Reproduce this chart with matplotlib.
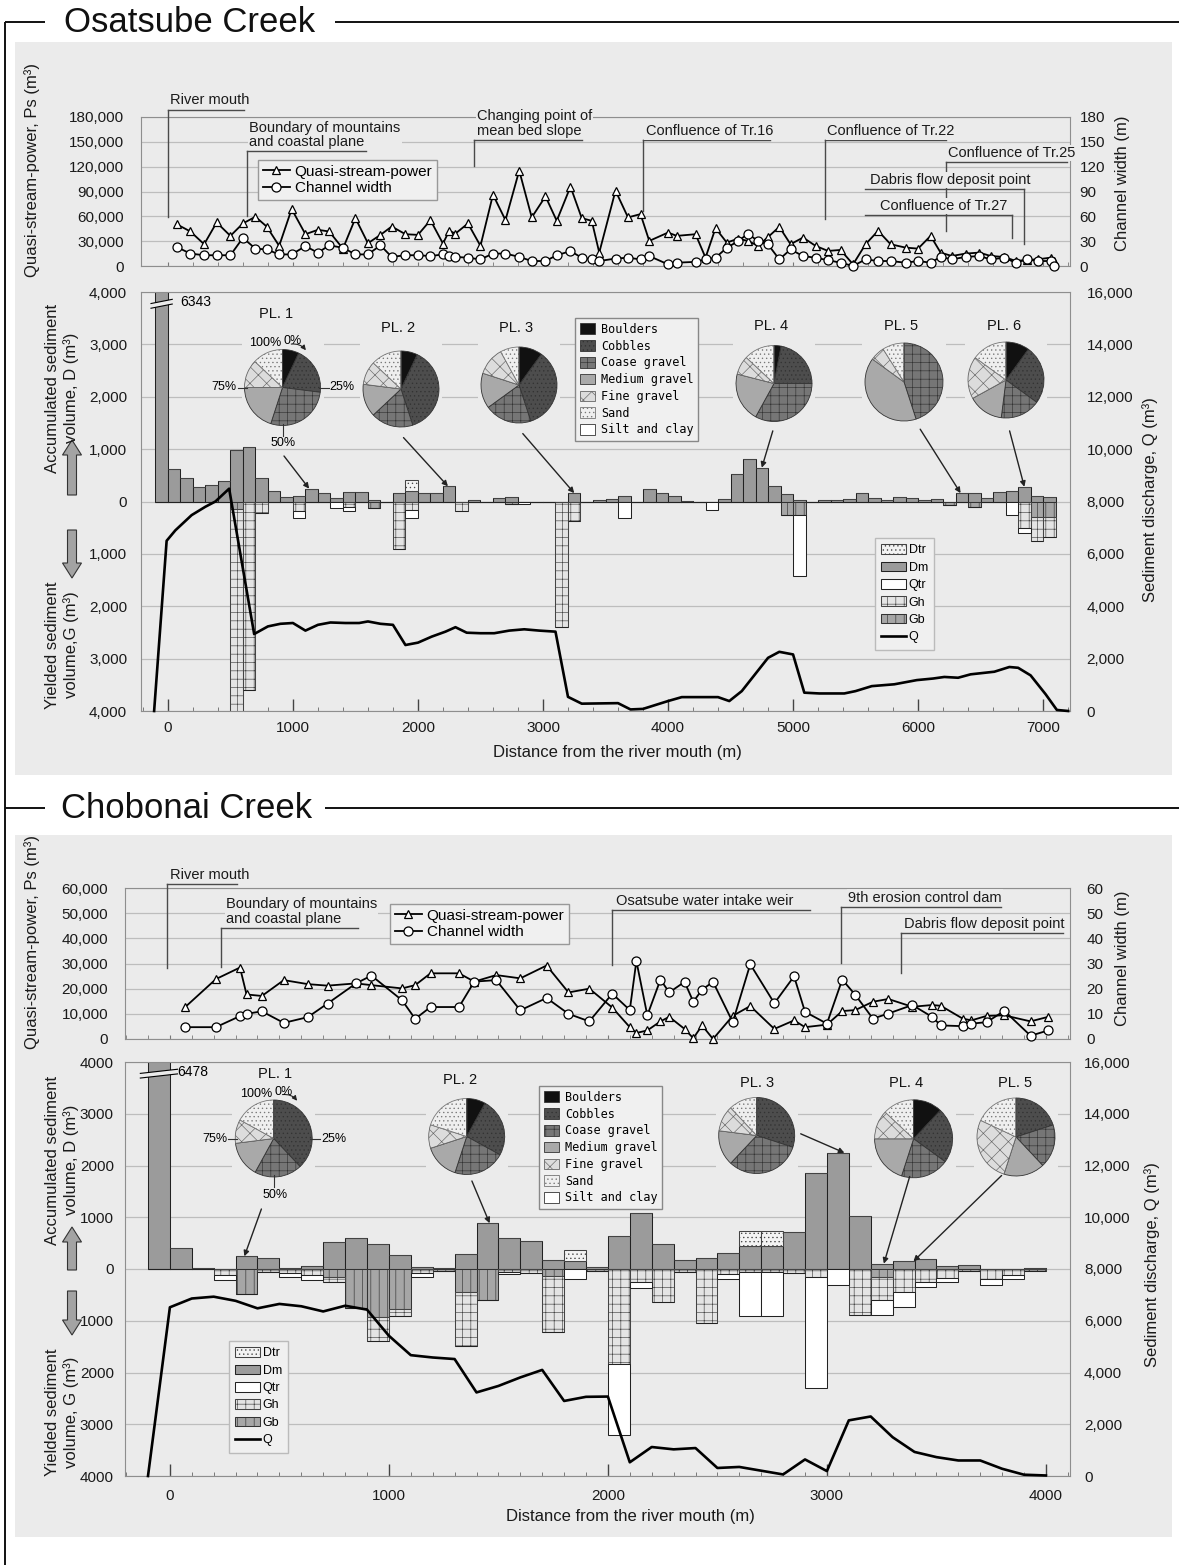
import numpy as np
import matplotlib
matplotlib.use("Agg")
import matplotlib.pyplot as plt
from matplotlib.patches import Rectangle, Patch, FancyArrow, ConnectionPatch, Polygon, FancyArrowPatch
from matplotlib.ticker import FuncFormatter

plt.rcParams["font.family"] = ["Liberation Sans", "DejaVu Sans"]
plt.rcParams["hatch.linewidth"] = 0.45
plt.rcParams["axes.unicode_minus"] = False

# ====================== DATA ======================
# ---------- Osatsube Creek : stream power / channel width ----------
osa_dist = [70, 180, 290, 390, 500, 600, 700, 790, 890, 990,
            1100, 1200, 1290, 1400, 1500, 1600, 1700, 1790, 1900, 2000,
            2100, 2200, 2250, 2300, 2400, 2500, 2600, 2700, 2810, 2910,
            3020, 3110, 3220, 3310, 3390, 3450, 3580, 3680, 3780, 3850,
            4000, 4070, 4220, 4300, 4380, 4470, 4560, 4640, 4720, 4800,
            4890, 4980, 5080, 5180, 5280, 5380, 5480, 5580, 5680, 5780,
            5900, 6000, 6100, 6180, 6270, 6380, 6490, 6580, 6690, 6780,
            6870, 6960, 7060, 7090]
osa_ps = [50500, 41700, 26300, 52600, 36400, 51400, 59500, 47700, 24300, 68800,
          38400, 43700, 41700, 21000, 57800, 27500, 37600, 47700, 38400, 37600,
          55400, 27100, 42500, 39200, 51400, 24300, 86200, 55400, 115300, 58700,
          84100, 54600, 95900, 57800, 54600, 16200, 91000, 58700, 62700, 30300,
          40400, 36400, 38400, 10100, 45700, 28300, 33000, 30300, 24300, 35000,
          47300, 26300, 34400, 24300, 18200, 19400, 2000, 26300, 42500, 26300,
          22200, 21000, 36400, 16200, 12100, 15000, 16200, 12100, 10900, 6100,
          7300, 8100, 10100, 6000]
osa_width = [23, 15, 13, 13, 13, 34, 21, 20, 14, 14,
             24, 16, 25, 22, 14, 14, 25, 11, 13, 13,
             12, 14, 12, 11, 10, 8, 15, 15, 11, 6,
             6, 13, 18, 10, 8, 6, 9, 10, 8, 12,
             2, 4, 5, 8, 10, 22, 30, 39, 30, 26,
             8, 20, 12, 10, 7, 4, 0, 8, 6, 6,
             4, 6, 4, 11, 8, 11, 12, 8, 10, 4,
             8, 6, 6, 0]

# ---------- Osatsube Creek : sediment budget per 100 m reach ----------
osa_bar_x = list(range(-50, 7100, 100))
osa_Dm = [6343, 613, 440, 270, 310, 390, 980, 1045, 450, 206,
          77, 97, 245, 160, 65, 180, 180, 30, 0, 160,
          205, 160, 160, 290, 0, 30, 0, 65, 80, 0,
          0, 0, 0, 160, 0, 20, 50, 97, 0, 240,
          170, 100, 10, 0, 0, 40, 516, 806, 645, 290,
          148, 30, 0, 20, 20, 40, 160, 60, 20, 80,
          60, 30, 40, 0, 160, 160, 60, 180, 200, 280,
          100, 80]
osa_Dtr = [0, 0, 0, 0, 0, 0, 0, 0, 0, 0,
           0, 0, 0, 0, 0, 0, 0, 0, 0, 0,
           215, 0, 0, 0, 0, 0, 0, 0, 0, 0,
           0, 0, 0, 0, 0, 0, 0, 0, 0, 0,
           0, 0, 0, 0, 0, 0, 0, 0, 0, 0,
           0, 0, 0, 0, 0, 0, 0, 0, 0, 0,
           0, 0, 0, 0, 0, 0, 0, 0, 0, 0,
           0, 0]
osa_Gb = [0, 0, 0, 0, 0, 0, 150, 0, 0, 0,
          0, 0, 0, 0, 0, 0, 0, 130, 0, 0,
          0, 0, 0, 0, 0, 0, 0, 0, 40, 0,
          0, 0, 0, 0, 0, 0, 0, 0, 0, 0,
          0, 0, 0, 0, 0, 0, 0, 0, 0, 0,
          250, 250, 0, 0, 0, 0, 0, 0, 0, 0,
          0, 0, 0, 60, 0, 100, 0, 0, 0, 0,
          300, 300]
osa_Gh = [0, 0, 0, 0, 0, 0, 3900, 3590, 220, 0,
          0, 190, 0, 0, 0, 100, 0, 0, 0, 900,
          170, 0, 0, 0, 190, 0, 0, 0, 0, 0,
          0, 0, 2400, 370, 0, 0, 0, 0, 0, 0,
          0, 0, 0, 0, 0, 0, 0, 0, 0, 0,
          0, 0, 0, 0, 0, 0, 0, 0, 0, 0,
          0, 0, 0, 0, 0, 0, 0, 0, 0, 500,
          460, 370]
osa_Qtr = [0, 0, 0, 0, 0, 0, 0, 0, 0, 0,
           0, 130, 0, 0, 130, 90, 0, 0, 0, 0,
           150, 0, 0, 0, 0, 0, 0, 0, 0, 40,
           0, 0, 0, 0, 0, 0, 0, 320, 0, 0,
           0, 0, 0, 0, 170, 0, 0, 0, 0, 0,
           0, 1180, 0, 0, 0, 0, 0, 0, 0, 0,
           0, 0, 0, 0, 0, 0, 0, 0, 250, 100,
           0, 0]
osa_q_x = [-110, -10, 60, 190, 300, 380, 490, 690, 800, 900,
           1000, 1100, 1200, 1300, 1420, 1530, 1600, 1700, 1800, 1900,
           2000, 2110, 2220, 2300, 2390, 2500, 2610, 2730, 2850, 2970,
           3100, 3200, 3310, 3600, 3700, 3800, 4000, 4110, 4400, 4490,
           4590, 4800, 4890, 5000, 5090, 5210, 5410, 5500, 5630, 5810,
           5990, 6120, 6210, 6320, 6420, 6610, 6730, 6800, 6900, 7020,
           7110, 7200]
osa_q = [0, 6500, 6900, 7480, 7800, 8000, 8490, 2940, 3230, 3330,
         3360, 3070, 3290, 3380, 3360, 3360, 3420, 3330, 3290, 2520,
         2610, 2840, 3030, 3200, 2990, 2970, 2970, 3070, 3120, 3070,
         3030, 540, 280, 300, 60, 80, 380, 530, 530, 380,
         760, 2030, 2260, 2160, 700, 670, 670, 760, 950, 1020,
         1180, 1240, 1300, 1270, 1400, 1500, 1680, 1650, 1360, 640,
         40, 0]

# ---------- Chobonai Creek : stream power / channel width ----------
cho_dist = [70, 210, 320, 350, 420, 520, 630, 720, 850, 920,
            1060, 1120, 1190, 1320, 1390, 1490, 1600, 1720, 1820, 1915,
            2020, 2100, 2130, 2180, 2240, 2280, 2350, 2390, 2430, 2480,
            2570, 2650, 2760, 2850, 2900, 3000, 3070, 3130, 3210, 3280,
            3390, 3480, 3520, 3620, 3660, 3730, 3810, 3930, 4010]
cho_ps = [12700, 23800, 28400, 17700, 17100, 23400, 21800, 21200, 22100, 21400,
          20100, 21400, 26100, 26100, 22800, 25400, 24100, 29200, 18500, 20000,
          12500, 4700, 2400, 3400, 7000, 8800, 4000, 300, 5400, 0,
          9200, 13100, 4000, 7400, 4700, 5700, 11100, 11500, 14800, 15900,
          12800, 13500, 13200, 8100, 7400, 9200, 9400, 7000, 8800]
cho_width = [4.7, 4.7, 9.1, 10.0, 11.0, 6.4, 8.7, 14.1, 22.1, 25.2,
             15.4, 8.0, 12.7, 12.7, 22.8, 23.4, 11.4, 16.3, 10.0, 7.0,
             18.0, 11.5, 31.0, 9.4, 23.6, 18.5, 22.7, 14.8, 19.6, 22.7,
             6.7, 29.7, 14.2, 24.9, 10.8, 6.1, 23.6, 17.5, 8.1, 10.1,
             13.5, 8.8, 5.4, 5.1, 6.1, 6.7, 11.2, 1.3, 3.4]

# ---------- Chobonai Creek : sediment budget ----------
cho_bar_x = list(range(-50, 4000, 100))
cho_Dm = [6478, 400, 20, 0, 245, 213, 20, 60, 516, 600,
          484, 270, 40, 10, 290, 884, 606, 535, 174, 150,
          40, 640, 1080, 490, 168, 213, 310, 450, 450, 710,
          1858, 2245, 1020, 103, 148, 194, 52, 84, 0, 0,
          10]
cho_Dtr = [0, 0, 0, 0, 0, 0, 0, 0, 0, 0,
           0, 0, 0, 0, 0, 0, 0, 0, 0, 210,
           0, 0, 0, 0, 0, 0, 0, 290, 290, 0,
           0, 0, 0, 0, 0, 0, 0, 0, 0, 0,
           0]
cho_Gb = [0, 0, 0, 0, 480, 0, 0, 0, 150, 760,
          935, 774, 0, 30, 450, 590, 0, 0, 130, 0,
          30, 0, 0, 0, 0, 0, 0, 0, 0, 0,
          0, 0, 0, 150, 0, 0, 0, 30, 0, 0,
          0]
cho_Gh = [0, 0, 0, 110, 0, 60, 80, 120, 100, 0,
          450, 130, 80, 0, 1030, 0, 60, 80, 1095, 0,
          0, 1840, 250, 630, 50, 1045, 100, 60, 60, 80,
          160, 0, 890, 450, 450, 250, 180, 0, 200, 120,
          30]
cho_Qtr = [0, 0, 0, 110, 0, 0, 80, 100, 0, 0,
           0, 0, 80, 0, 0, 0, 40, 0, 0, 190,
           0, 1360, 120, 0, 0, 0, 90, 840, 840, 0,
           2130, 310, 0, 290, 290, 105, 65, 0, 110, 70,
           0]
cho_q_x = [-100, 0, 100, 200, 300, 400, 500, 600, 700, 800,
           900, 1000, 1100, 1200, 1300, 1400, 1500, 1600, 1700, 1800,
           1900, 2000, 2100, 2200, 2300, 2400, 2500, 2600, 2800, 2900,
           3000, 3100, 3200, 3300, 3400, 3500, 3600, 3700, 3800, 3900,
           4000]
cho_q = [0, 6520, 6860, 6930, 6770, 6480, 6650, 6560, 6360, 6580,
         6430, 5420, 4670, 4580, 4520, 3230, 3480, 3810, 4100, 2900,
         3060, 3070, 530, 1120, 1030, 1080, 310, 350, 60, 640,
         190, 2150, 2300, 1500, 930, 730, 600, 600, 280, 50,
         20]

# ---------- grain size composition (%) ----------
grain_classes = ["Boulders", "Cobbles", "Coase gravel", "Medium gravel",
                 "Fine gravel", "Sand", "Silt and clay"]
osa_pie_names = ["PL. 1", "PL. 2", "PL. 3", "PL. 4", "PL. 5", "PL. 6"]
osa_pie_pct = [[7, 20, 28, 20, 12, 13, 0],
               [7, 38, 18, 14, 10, 13, 0],
               [10, 35, 20, 15, 12, 8, 0],
               [3, 22, 33, 21, 8, 13, 0],
               [0, 0, 45, 40, 6, 9, 0],
               [10, 25, 17, 15, 18, 15, 0]]
cho_pie_names = ["PL. 1", "PL. 2", "PL. 3", "PL. 4", "PL. 5"]
cho_pie_pct = [[0, 38, 20, 15, 10, 17, 0],
               [8, 25, 22, 15, 10, 20, 0],
               [0, 30, 32, 15, 11, 12, 0],
               [12, 23, 20, 20, 12, 13, 0],
               [0, 20, 18, 17, 27, 18, 0]]
# pointer targets (distance m, volume m3) for each pie
osa_pie_target_x = [1130, 2240, 3250, 4750, 6340, 6850]
osa_pie_target_y = [245, 290, 160, 645, 160, 280]
cho_pie_target_x = [340, 1460, 3080, 3260, 3395]
cho_pie_target_y = [245, 884, 2245, 103, 148]

# ---------- callout notes on stream-power panels ----------
osa_notes = ["River mouth", "Boundary of mountains\nand coastal plane",
             "Changing point of\nmean bed slope", "Confluence of Tr.16",
             "Confluence of Tr.22", "Confluence of Tr.25",
             "Dabris flow deposit point", "Confluence of Tr.27"]
osa_note_lead_x = [0, 636, 2448, 3800, 5255, 6224, 6845, 6755]
osa_note_lead_bottom = [58700, 60700, 121300, 66700, 56600, 42500, 26300, 34400]
cho_notes = ["River mouth", "Boundary of mountains\nand coastal plane",
             "Osatsube water intake weir", "9th erosion control dam",
             "Dabris flow deposit point"]
cho_note_lead_x = [-15, 233, 2018, 3064, 3339]
cho_note_lead_bottom = [28200, 28700, 29400, 30200, 26200]

# ====================== LAYOUT / STYLE ======================
W, H = 1179, 1565
BG = "#ebebeb"
GRID = "#bdbdbd"
SPINE = "#8e8e8e"
NOTE = "#4a4a4a"

# note geometry: text x, underline level, underline start/end (data units)
osa_note_geom = [(20, 189000, 0, 606), (652, 138700, 636, 1585),
                 (2470, 152500, 2448, 3312), (3820, 151700, 3800, 4815),
                 (5275, 151700, 5255, 6224), (6240, 125400, 6224, 7194),
                 (5618, 93000, 5573, 6845), (5694, 61900, 5573, 6755)]
cho_note_geom = [(0, 61600, -15, 305), (256, 44200, 233, 858),
                 (2037, 51300, 2018, 2922), (3098, 52600, 3064, 3797),
                 (3352, 42200, 3339, 4077)]

osa_pie_pos = [(282.5, 387.5, 38, 276, 314), (401, 389, 38, 398, 328),
               (519, 385, 38, 516, 328), (774, 383.5, 38, 771, 326),
               (904, 382, 39, 901, 326), (1006, 380, 38, 1004, 326)]
osa_ptr_start = [(284, 456), (403.5, 437.6), (522.8, 433.6),
                 (772.8, 430.9), (920.2, 429.2), (1009.6, 430.9)]
cho_pie_pos = [(273.7, 1138.5, 38.5, 275, 1074), (466.7, 1136.5, 38, 460, 1080),
               (756.7, 1135.5, 38, 757, 1083), (913.6, 1138.8, 39, 906, 1083),
               (1016, 1137, 39, 1015, 1083)]
cho_ptr_start = [(261.4, 1209), (471.9, 1181), (800.7, 1133.8),
                 (909.7, 1176.5), (1001.6, 1175.5)]

GRAIN_FC = ["#111111", "#4d4d4d", "#767676", "#a9a9a9", "#dcdcdc", "#efefef", "#ffffff"]
GRAIN_EC = ["#333333", "#333333", "#333333", "#333333", "#666666", "#777777", "#333333"]
GRAIN_HATCH = [None, "....", "++", None, "xx", "....", None]

STY = {
    "Dtr": dict(facecolor="#f3f3f3", hatch="....", edgecolor="#444444"),
    "Dm": dict(facecolor="#9b9b9b", edgecolor="#222222"),
    "Qtr": dict(facecolor="#ffffff", edgecolor="#222222"),
    "Gh": dict(facecolor="#e4e4e4", hatch="++", edgecolor="#444444"),
    "Gb": dict(facecolor="#a6a6a6", hatch="||", edgecolor="#333333"),
}

fig = plt.figure(figsize=(W / 100, H / 100), dpi=100)
fig.patch.set_facecolor("white")


def axes_px(l, t, r, b, zorder=0):
    ax = fig.add_axes([l / W, 1 - b / H, (r - l) / W, (b - t) / H])
    ax.set_zorder(zorder)
    return ax


def fpx(x, y):
    return (x, H - y)


# background panels
bg = axes_px(0, 0, W, H, zorder=-10)
bg.set_xlim(0, W)
bg.set_ylim(H, 0)
bg.axis("off")
for (l, t, r, b) in [(15, 42, 1172, 775), (15, 835, 1172, 1537)]:
    bg.add_patch(Rectangle((l, t), r - l, b - t, facecolor=BG, edgecolor="none"))


def style_spines(ax):
    for s in ax.spines.values():
        s.set_color(SPINE)
        s.set_linewidth(0.8)


def stream_panel(box, xlim, dist, ps, wd, ps_max, ps_step, w_step, xmajor, xminor,
                 lpad, rpad, notes, geom, lead_x, lead_bot):
    ax = axes_px(*box)
    ax.set_facecolor(BG)
    ax.set_xlim(*xlim)
    ax.set_ylim(0, ps_max)
    ax.set_yticks(np.arange(0, ps_max + 1, ps_step))
    ax.yaxis.set_major_formatter(FuncFormatter(lambda v, p: f"{int(round(v)):,}"))
    ax.grid(axis="y", color=GRID, lw=0.9)
    ax.set_axisbelow(True)
    ax.set_xticks(xmajor)
    ax.set_xticks(xminor, minor=True)
    ax.tick_params(axis="x", which="both", direction="in", labelbottom=False,
                   length=3, color="#777777")
    ax.tick_params(axis="y", length=0, pad=lpad, labelsize=11, labelcolor="#1a1a1a")
    style_spines(ax)
    (l1,) = ax.plot(dist, ps, color="k", lw=1.3, marker="^", ms=5.5, mfc="white",
                    mec="k", mew=0.9, clip_on=False, zorder=6, label="Quasi-stream-power")
    ax2 = ax.twinx()
    ax2.set_ylim(0, ps_max / 1000)
    ax2.set_yticks(np.arange(0, ps_max / 1000 + 1, w_step))
    ax2.tick_params(axis="y", length=0, pad=rpad, labelsize=11, labelcolor="#1a1a1a")
    for s in ax2.spines.values():
        s.set_visible(False)
    (l2,) = ax2.plot(dist, wd, color="k", lw=1.3, marker="o", ms=6.5, mfc="white",
                     mec="k", mew=0.9, clip_on=False, zorder=6, label="Channel width")
    for txt, (tx, uy, u0, u1), lx, lb in zip(notes, geom, lead_x, lead_bot):
        ax.plot([u0, u1], [uy, uy], color=NOTE, lw=1.0, clip_on=False, zorder=3)
        ax.plot([lx, lx], [uy, lb], color=NOTE, lw=1.0, clip_on=False, zorder=3)
        ax.annotate(txt, xy=(tx, uy), xytext=(0, 1.5), textcoords="offset points",
                    ha="left", va="bottom", fontsize=10.5, linespacing=1.05,
                    annotation_clip=False, zorder=4, color="#1a1a1a",
                    bbox=dict(boxstyle="square,pad=0.08", fc=BG, ec="none"))
    return ax, ax2, l1, l2


def sediment_panel(box, xlim, bx, Dtr, Dm, Qtr, Gh, Gb, qx, qv, comma, xmajor, xminor,
                   lpad, rpad, xpad, brk_dx):
    bx = np.array(bx, float)
    Dtr, Dm, Qtr, Gh, Gb = [np.array(a, float) for a in (Dtr, Dm, Qtr, Gh, Gb)]
    ax = axes_px(*box)
    ax.set_facecolor(BG)
    ax.set_xlim(*xlim)
    ax.set_ylim(-4000, 4000)
    ax.set_yticks(np.arange(-4000, 4001, 1000))
    if comma:
        ax.yaxis.set_major_formatter(FuncFormatter(lambda v, p: f"{abs(int(round(v))):,}"))
    else:
        ax.yaxis.set_major_formatter(FuncFormatter(lambda v, p: f"{abs(int(round(v)))}"))
    ax.grid(axis="y", color=GRID, lw=0.9)
    ax.set_axisbelow(True)
    ax.set_xticks(xmajor)
    ax.set_xticks(xminor, minor=True)
    ax.tick_params(axis="x", which="major", direction="in", length=9, width=1.0,
                   color="#444444", pad=xpad, labelsize=11, labelcolor="#1a1a1a")
    ax.tick_params(axis="x", which="minor", direction="in", length=3, color="#666666")
    ax.tick_params(axis="y", length=0, pad=lpad, labelsize=11, labelcolor="#1a1a1a")
    style_spines(ax)
    kw = dict(width=100, linewidth=0.75, zorder=2)
    h = {}
    h["Dm"] = ax.bar(bx, Dm, **STY["Dm"], **kw)
    h["Dtr"] = ax.bar(bx, Dtr, bottom=Dm, **STY["Dtr"], **kw)
    h["Gb"] = ax.bar(bx, -Gb, **STY["Gb"], **kw)
    h["Gh"] = ax.bar(bx, -Gh, bottom=-Gb, **STY["Gh"], **kw)
    h["Qtr"] = ax.bar(bx, -Qtr, bottom=-(Gb + Gh), **STY["Qtr"], **kw)
    # axis break on the first (off-scale) bar
    x0, x1 = bx[0] - 50, bx[0] + 50
    ax.add_patch(Polygon([(x0 - 35, 3690), (x1 + 35, 3770), (x1 + 35, 3860), (x0 - 35, 3780)],
                         closed=True, fc=BG, ec="none", zorder=5))
    ax.plot([x0 - 35, x1 + 35], [3690, 3770], color="k", lw=0.8, zorder=6)
    ax.plot([x0 - 35, x1 + 35], [3780, 3860], color="k", lw=0.8, zorder=6)
    ax.text(x1 + brk_dx, 3800, f"{int(Dm[0])}", fontsize=10, va="center", ha="left", zorder=6)
    axq = ax.twinx()
    axq.set_ylim(0, 16000)
    axq.set_yticks(np.arange(0, 16001, 2000))
    axq.yaxis.set_major_formatter(FuncFormatter(lambda v, p: f"{int(round(v)):,}"))
    axq.tick_params(axis="y", length=0, pad=rpad, labelsize=11, labelcolor="#1a1a1a")
    for s in axq.spines.values():
        s.set_visible(False)
    (lq,) = axq.plot(qx, qv, color="k", lw=1.9, clip_on=False, zorder=5, label="Q")
    return ax, axq, h, lq


def draw_pie(pos, fracs, title, scale_marks=False):
    cx, cy, r, tx, ty = pos
    l, rr = cx - r - 3, cx + r + 3
    t, b = ty - 10, cy + r + 2
    pax = axes_px(l, t, rr, b, zorder=2)
    pax.set_facecolor(BG)
    wedges, _ = pax.pie(fracs, colors=GRAIN_FC, startangle=90, counterclock=False,
                        center=(cx, H - cy), radius=r, frame=True,
                        wedgeprops=dict(edgecolor="#333333", linewidth=0.6))
    for w, hh, ec in zip(wedges, GRAIN_HATCH, GRAIN_EC):
        w.set_edgecolor(ec)
        if hh:
            w.set_hatch(hh)
    pax.set_xlim(l, rr)
    pax.set_ylim(H - b, H - t)
    pax.set_aspect("auto")
    pax.set_xticks([])
    pax.set_yticks([])
    for s in pax.spines.values():
        s.set_visible(False)
    pax.text(tx, H - ty, title, ha="center", va="center", fontsize=10.5, color="#111111")
    if scale_marks:
        fs = 9
        pax.text(cx - 1, H - (cy - r - 6), "100%", ha="right", va="center", fontsize=fs)
        pax.text(cx + 1, H - (cy - r - 8), "0%", ha="left", va="center", fontsize=fs)
        pax.text(cx - r - 8, H - cy, "75%", ha="right", va="center", fontsize=fs)
        pax.text(cx + r + 9, H - cy, "25%", ha="left", va="center", fontsize=fs)
        pax.text(cx + 1, H - (cy + r + 18), "50%", ha="center", va="center", fontsize=fs)
        pax.plot([cx - r - 7, cx - r + 2], [H - cy, H - cy], color="#333", lw=0.8, clip_on=False)
        pax.plot([cx + r - 2, cx + r + 8], [H - cy, H - cy], color="#333", lw=0.8, clip_on=False)
        pax.plot([cx, cx], [H - (cy + r - 2), H - (cy + r + 10)], color="#333", lw=0.8, clip_on=False)
        arr = FancyArrowPatch((cx + 6, H - (cy - r - 5)), (cx + 25, H - (cy - r + 3)),
                              connectionstyle="arc3,rad=-0.35", arrowstyle="-|>",
                              mutation_scale=7, color="#222", lw=0.8, clip_on=False)
        pax.add_patch(arr)
    return pax


def pointers(ax, starts, tx, ty):
    for (sx, sy), x, y in zip(starts, tx, ty):
        cp = ConnectionPatch(xyA=fpx(sx, sy), coordsA="figure pixels", xyB=(x, y),
                             coordsB=ax.transData, arrowstyle="-|>", mutation_scale=8,
                             color="#222222", lw=1.0, zorder=8)
        fig.add_artist(cp)


def grain_legend(l, t):
    hs = [Patch(facecolor=c, hatch=hh, edgecolor=ec, linewidth=0.6)
          for c, hh, ec in zip(GRAIN_FC, GRAIN_HATCH, GRAIN_EC)]
    fig.legend(hs, grain_classes, loc="upper left", bbox_to_anchor=(l / W, 1 - t / H),
               bbox_transform=fig.transFigure, borderaxespad=0, frameon=True,
               fancybox=False, edgecolor="#888888", facecolor="#f0f0f0", framealpha=1,
               prop=dict(family="DejaVu Sans Mono", size=8.5), handlelength=1.3,
               handleheight=1.0, labelspacing=0.32, borderpad=0.4, handletextpad=0.5)


def bar_legend(h, lq, l, t):
    fig.legend([h["Dtr"], h["Dm"], h["Qtr"], h["Gh"], h["Gb"], lq],
               ["Dtr", "Dm", "Qtr", "Gh", "Gb", "Q"], loc="upper left",
               bbox_to_anchor=(l / W, 1 - t / H), bbox_transform=fig.transFigure,
               borderaxespad=0, frameon=True, fancybox=False, edgecolor="#bbbbbb",
               facecolor="#f0f0f0", framealpha=1, fontsize=9, handlelength=2.0,
               handleheight=0.8, labelspacing=0.42, borderpad=0.5, handletextpad=0.2)


def ps_legend(l1, l2, l, t):
    fig.legend([l1, l2], ["Quasi-stream-power", "Channel width"], loc="upper left",
               bbox_to_anchor=(l / W, 1 - t / H), bbox_transform=fig.transFigure,
               borderaxespad=0, frameon=True, fancybox=False, edgecolor="#999999",
               facecolor="#f0f0f0", framealpha=1, fontsize=11, handlelength=1.8,
               handletextpad=0.3, borderpad=0.3, labelspacing=0.18)


# ====================== OSATSUBE ======================
osa_xlim = (-215, 7215)
ax, ax2, l1, l2 = stream_panel((141, 117, 1070, 266), osa_xlim, osa_dist, osa_ps, osa_width,
                               180000, 30000, 30, list(range(0, 7001, 1000)),
                               list(range(0, 7201, 200)), 12, 7, osa_notes, osa_note_geom,
                               osa_note_lead_x, osa_note_lead_bottom)
ps_legend(l1, l2, 258, 160)
axm, axq, h, lq = sediment_panel((141, 292, 1070, 711), osa_xlim, osa_bar_x, osa_Dtr, osa_Dm,
                                 osa_Qtr, osa_Gh, osa_Gb, osa_q_x, osa_q, True,
                                 list(range(0, 7001, 1000)), list(range(-200, 7201, 200)),
                                 10, 12, 7, 95)
for i, (pos, fr, nm) in enumerate(zip(osa_pie_pos, osa_pie_pct, osa_pie_names)):
    draw_pie(pos, fr, nm, scale_marks=(i == 0))
pointers(axm, osa_ptr_start, osa_pie_target_x, osa_pie_target_y)
grain_legend(575, 318)
bar_legend(h, lq, 875, 538)

# ====================== CHOBONAI ======================
cho_xlim = (-205, 4110)
bx_, bx2_, c1, c2 = stream_panel((125, 888, 1070, 1039), cho_xlim, cho_dist, cho_ps, cho_width,
                                 60000, 10000, 10, list(range(0, 4001, 1000)),
                                 list(range(-200, 4101, 100)), 12, 12, cho_notes, cho_note_geom,
                                 cho_note_lead_x, cho_note_lead_bottom)
ps_legend(c1, c2, 390, 904)
cxm, cxq, ch, clq = sediment_panel((125, 1062, 1070, 1476), cho_xlim, cho_bar_x, cho_Dtr, cho_Dm,
                                   cho_Qtr, cho_Gh, cho_Gb, cho_q_x, cho_q, False,
                                   list(range(0, 4001, 1000)), list(range(-200, 4101, 100)),
                                   8, 10, 9, 35)
for i, (pos, fr, nm) in enumerate(zip(cho_pie_pos, cho_pie_pct, cho_pie_names)):
    draw_pie(pos, fr, nm, scale_marks=(i == 0))
pointers(cxm, cho_ptr_start, cho_pie_target_x, cho_pie_target_y)
grain_legend(539, 1086)
bar_legend(ch, clq, 229, 1341)

# ====================== OVERLAY (frames, titles, labels) ======================
ov = axes_px(0, 0, W, H, zorder=30)
ov.set_xlim(0, W)
ov.set_ylim(H, 0)
ov.axis("off")
for xs, ys in [([5, 45], [22, 22]), ([335, W], [22, 22]), ([5, 5], [22, H]),
               ([5, 45], [808, 808]), ([325, W], [808, 808])]:
    ov.plot(xs, ys, color="#111111", lw=1.4, solid_capstyle="butt")
ov.text(64, 22, "Osatsube Creek", fontsize=25, ha="left", va="center", color="#111111")
ov.text(61, 808, "Chobonai Creek", fontsize=25, ha="left", va="center", color="#111111")

for (x, y0, y1) in [(72, 495, 440), (72, 530, 578), (72, 1270, 1227), (72, 1291, 1335)]:
    ov.add_patch(FancyArrow(x, y0, 0, y1 - y0, width=9, head_width=19, head_length=15,
                            length_includes_head=True, fc="#a3a3a3", ec="#333333", lw=0.8))

lab = dict(rotation=90, ha="center", va="center", fontsize=12, color="#1a1a1a",
           linespacing=1.25, multialignment="center")
ov.text(32, 170, "Quasi-stream-power, Ps (m³)", **lab)
ov.text(1122, 183, "Channel width (m)", **lab)
ov.text(62, 388, "Accumulated sediment\nvolume, D (m³)", **lab)
ov.text(62, 645, "Yielded sediment\nvolume,G (m³)", **lab)
ov.text(1150, 500, "Sediment discharge, Q (m³)", **lab)
ov.text(617, 752, "Distance from the river mouth (m)", ha="center", va="center",
        fontsize=12, color="#1a1a1a")

ov.text(32, 942, "Quasi-stream-power, Ps (m³)", **lab)
ov.text(1122, 958, "Channel width (m)", **lab)
ov.text(62, 1160, "Accumulated sediment\nvolume, D (m³)", **lab)
ov.text(62, 1412, "Yielded sediment\nvolume, G (m³)", **lab)
ov.text(1152, 1265, "Sediment discharge, Q (m³)", **lab)
ov.text(630, 1517, "Distance from the river mouth (m)", ha="center", va="center",
        fontsize=12, color="#1a1a1a")

fig.savefig("out.png", dpi=100, facecolor="white")
